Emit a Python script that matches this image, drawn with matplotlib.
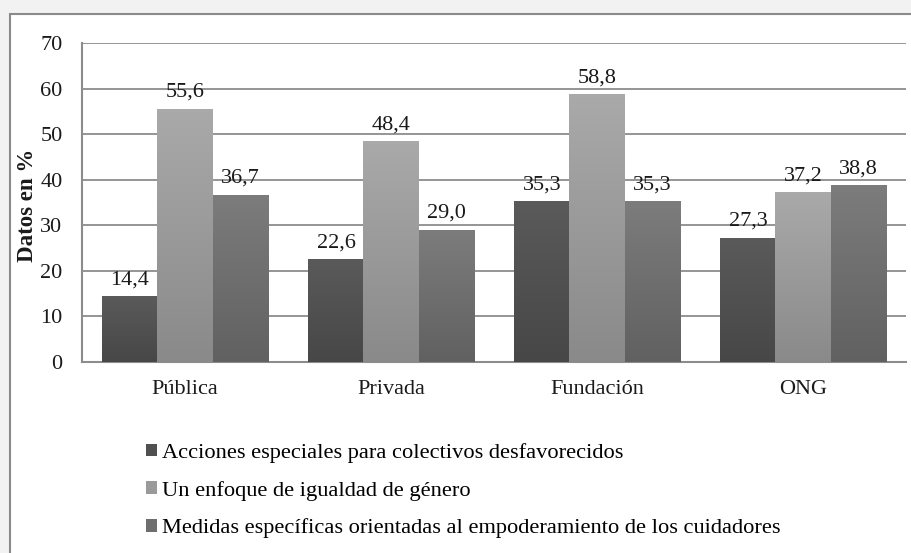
import numpy as np
import matplotlib
matplotlib.use("Agg")
import matplotlib.pyplot as plt
from matplotlib.patches import Rectangle, Patch
from matplotlib.colors import LinearSegmentedColormap

categories = ["Pública", "Privada", "Fundación", "ONG"]
series_names = [
    "Acciones especiales para colectivos desfavorecidos",
    "Un enfoque de igualdad de género",
    "Medidas específicas orientadas al empoderamiento de los cuidadores",
]
acciones = [14.4, 22.6, 35.3, 27.3]
igualdad = [55.6, 48.4, 58.8, 37.2]
medidas = [36.7, 29.0, 35.3, 38.8]
values = [acciones, igualdad, medidas]
yticks = [0, 10, 20, 30, 40, 50, 60, 70]

# gradient (top, bottom) colours per series
grad = [("#5a5a5a", "#474747"), ("#a9a9a9", "#8a8a8a"), ("#7c7c7c", "#616161")]
mid = ["#505050", "#9a9a9a", "#6e6e6e"]

plt.rcParams['font.family'] = ['Liberation Serif', 'DejaVu Serif']

W, H = 912, 553
fig = plt.figure(figsize=(W / 100, H / 100), dpi=100)
fig.patch.set_facecolor("#f2f2f2")
# white chart frame
fig.patches.append(Rectangle((10 / W, -0.05), 1.1, (H - 14) / H + 0.05,
                             transform=fig.transFigure, facecolor="white",
                             edgecolor="#8a8a8a", linewidth=1.5, zorder=-5))

ax = fig.add_axes([82 / W, (H - 362) / H, (906 - 82) / W, (362 - 43) / H])
ax.set_zorder(2)
ax.set_facecolor("none")

x = np.arange(len(categories))
bw = 0.267
offsets = [-bw, 0, bw]
fs = 16
for i, (vals, off) in enumerate(zip(values, offsets)):
    bars = ax.bar(x + off, vals, width=bw, color=mid[i], zorder=3, linewidth=0)
    cmap = LinearSegmentedColormap.from_list(f"g{i}", [grad[i][1], grad[i][0]])
    for b in bars:
        x0, y0 = b.get_x(), b.get_y()
        w, h = b.get_width(), b.get_height()
        img = ax.imshow(np.linspace(0, 1, 64).reshape(-1, 1), cmap=cmap,
                        origin="lower", aspect="auto",
                        extent=[x0, x0 + w, y0, y0 + h], zorder=3.5)
        img.set_clip_path(b)
    ax.bar_label(bars, labels=[f"{v:.1f}".replace(".", ",") for v in vals],
                 padding=5, fontsize=fs, color="#1a1a1a", zorder=5)

ax.set_xlim(-0.5, len(categories) - 0.5)
ax.set_ylim(0, 70)
ax.set_yticks(yticks)
ax.set_xticks(x)
ax.set_xticklabels(categories)
ax.tick_params(axis="both", length=0, labelsize=fs, colors="#1a1a1a")
ax.tick_params(axis="y", pad=14)
ax.tick_params(axis="x", pad=13)
ax.grid(axis="y", color="#8c8c8c", linewidth=1.3, zorder=1)
ax.set_axisbelow(True)
for s in ["top", "right"]:
    ax.spines[s].set_visible(False)
for s in ["left", "bottom"]:
    ax.spines[s].set_color("#8c8c8c")
    ax.spines[s].set_linewidth(1.5)
ax.set_ylabel("Datos en %", fontsize=16.5, fontweight="bold", color="#1a1a1a",
              va="center")
ax.yaxis.set_label_coords(-0.066, 0.49)

lfs = 16.1
handles = [Patch(facecolor=mid[i], edgecolor="none") for i in range(3)]
fig.legend(handles, series_names, loc="upper left",
           bbox_to_anchor=(146 / W, (H - 443) / H), frameon=False,
           fontsize=lfs, handlelength=0.5, handleheight=0.5,
           handletextpad=0.2, labelspacing=0.8, borderpad=0, borderaxespad=0)

fig.savefig("out.png", dpi=100, facecolor=fig.get_facecolor())
